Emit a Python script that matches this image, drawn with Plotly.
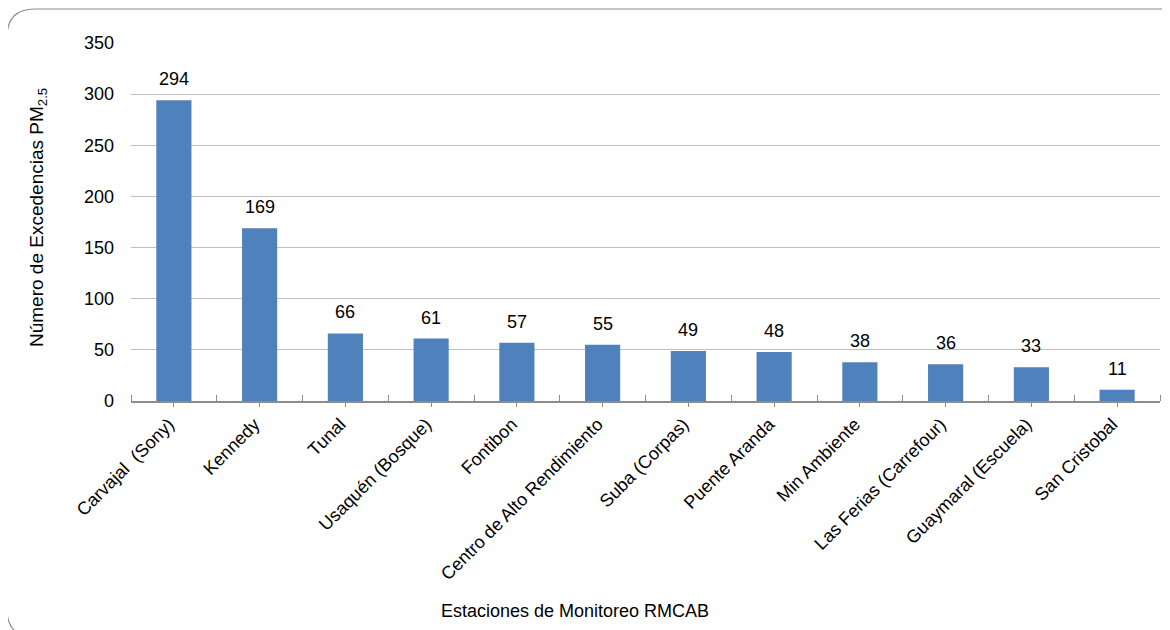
import plotly.graph_objects as go

# Excedencias PM2.5 por estacion
estaciones = ['Carvajal  (Sony)', 'Kennedy', 'Tunal', 'Usaquén (Bosque)', 'Fontibon',
              'Centro de Alto Rendimiento', 'Suba (Corpas)', 'Puente Aranda',
              'Min Ambiente', 'Las Ferias (Carrefour)', 'Guaymaral (Escuela)', 'San Cristobal']
excedencias = [294, 169, 66, 61, 57, 55, 49, 48, 38, 36, 33, 11]
yticks = [0, 50, 100, 150, 200, 250, 300, 350]

# page body adds an 8px margin, so size the figure to fit the window
OFF = 8
W, H = 1170 - OFF, 630 - OFF
# plot area in screen pixels: x 131..1160, y 43..401
L, R, T, B = 131 - OFF, 1170 - 1160, 43 - OFF, 630 - 401
pw, ph = W - L - R, H - T - B


def px(x):
    return (x - OFF - L) / pw


def py(y):
    return (H - B - (y - OFF)) / ph


# rounded chart border (screen pixels -> paper)
x0, x1, y0, y1, r = 7, 1190, 9, 637, 28
rx, ry = r / pw, r / ph
border = (f"M {px(x0)} {py(y0) - ry} "
          f"Q {px(x0)} {py(y0)} {px(x0) + rx} {py(y0)} "
          f"L {px(x1) - rx} {py(y0)} "
          f"Q {px(x1)} {py(y0)} {px(x1)} {py(y0) - ry} "
          f"L {px(x1)} {py(y1) + ry} "
          f"Q {px(x1)} {py(y1)} {px(x1) - rx} {py(y1)} "
          f"L {px(x0) + rx} {py(y1)} "
          f"Q {px(x0)} {py(y1)} {px(x0)} {py(y1) + ry} Z")

xs = list(range(len(estaciones)))

fig = go.Figure(go.Bar(
    x=xs,
    y=excedencias,
    marker=dict(color='#4f81bd', line=dict(width=0)),
    width=0.41,
))

# value labels above bars
annotations = [dict(x=x, y=v, text=str(v), xref='x', yref='y', showarrow=False,
                    xanchor='center', yanchor='bottom', yshift=9, font=dict(size=18))
               for x, v in zip(xs, excedencias)]
annotations.append(dict(text='Estaciones de Monitoreo RMCAB', xref='paper', yref='paper',
                        x=px(575), y=py(611), xanchor='center', yanchor='middle',
                        showarrow=False, font=dict(size=18)))
annotations.append(dict(text='Número de Excedencias PM<sub>2.5</sub>', xref='paper', yref='paper',
                        x=px(38), y=py(218), xanchor='center', yanchor='middle',
                        showarrow=False, textangle=-90, font=dict(size=19)))

fig.update_layout(
    width=W, height=H,
    margin=dict(l=L, r=R, t=T, b=B),
    paper_bgcolor='white', plot_bgcolor='white',
    font=dict(family='Liberation Sans, Arial, sans-serif', size=18, color='#000000'),
    showlegend=False,
    annotations=annotations,
    shapes=[dict(type='path', xref='paper', yref='paper', path=border,
                 line=dict(color='#8c8c8c', width=1.2), layer='below')],
)

fig.update_xaxes(
    range=[-0.5, len(estaciones) - 0.5], automargin=False,
    tickmode='array', tickvals=xs, ticktext=estaciones,
    tickangle=-45, ticks='outside', ticklen=4, tickcolor='#8c8c8c',
    minor=dict(ticks='inside', ticklen=6, tickcolor='#8c8c8c', tick0=-0.5, dtick=1),
    showline=True, linecolor='#8c8c8c', linewidth=1.5,
    showgrid=False, zeroline=False, ticklabelshift=-5,
    tickfont=dict(size=18),
)
fig.update_yaxes(
    range=[0, 350], automargin=False, tickmode='array', tickvals=yticks,
    showgrid=True, gridcolor='#bfbfbf', gridwidth=1.2,
    zeroline=False, showline=False, ticks='', ticklabelstandoff=16,
    tickfont=dict(size=18),
)

fig.write_html('out.html')
